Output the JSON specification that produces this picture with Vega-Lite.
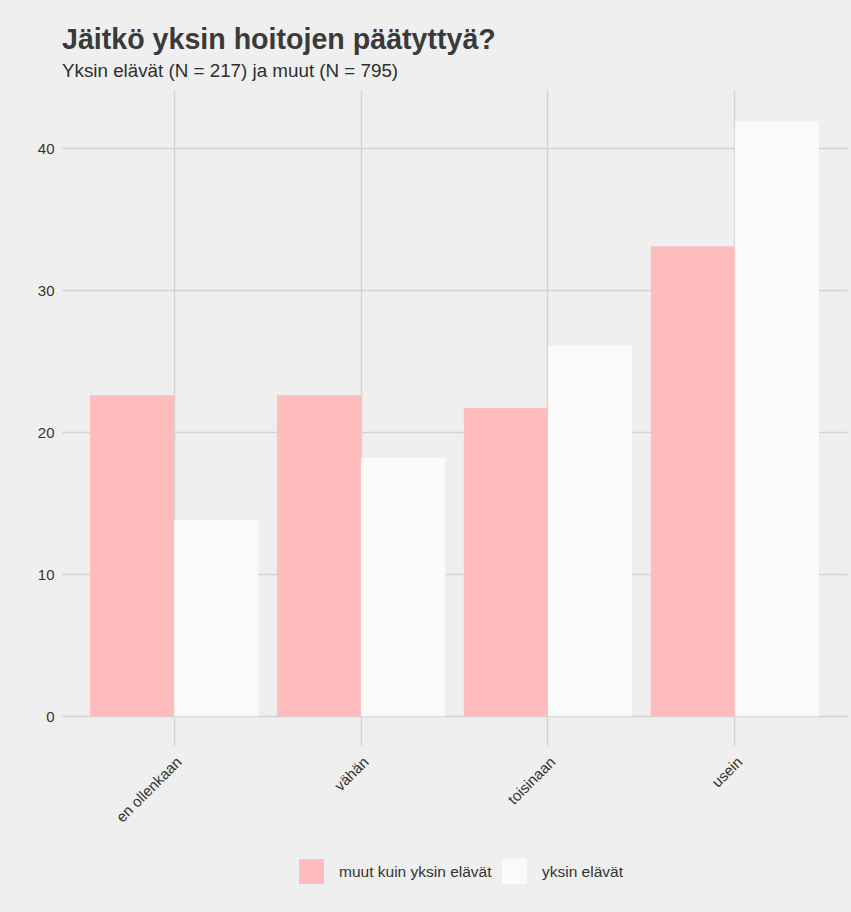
{
  "$schema": "https://vega.github.io/schema/vega-lite/v6.json",
  "width": 785,
  "height": 656,
  "autosize": {"type": "none"},
  "padding": {"left": 62, "top": 90, "right": 4, "bottom": 166},
  "background": "#efefef",
  "title": {
    "text": "Jäitkö yksin hoitojen päätyttyä?",
    "subtitle": "Yksin elävät (N = 217) ja muut (N = 795)",
    "anchor": "start",
    "frame": "group",
    "font": "Liberation Sans",
    "fontSize": 28.6,
    "fontWeight": "bold",
    "color": "#3a3a3a",
    "subtitleFont": "Liberation Sans",
    "subtitleFontSize": 18.8,
    "subtitleColor": "#2e2e2e",
    "subtitlePadding": 8,
    "offset": 9
  },
  "data": {
    "values": [
      {"luokka": "en ollenkaan", "ryhma": "muut kuin yksin elävät", "pros": 22.6},
      {"luokka": "en ollenkaan", "ryhma": "yksin elävät", "pros": 13.8},
      {"luokka": "vähän", "ryhma": "muut kuin yksin elävät", "pros": 22.6},
      {"luokka": "vähän", "ryhma": "yksin elävät", "pros": 18.2},
      {"luokka": "toisinaan", "ryhma": "muut kuin yksin elävät", "pros": 21.7},
      {"luokka": "toisinaan", "ryhma": "yksin elävät", "pros": 26.1},
      {"luokka": "usein", "ryhma": "muut kuin yksin elävät", "pros": 33.1},
      {"luokka": "usein", "ryhma": "yksin elävät", "pros": 41.9}
    ]
  },
  "mark": {"type": "bar"},
  "encoding": {
    "x": {
      "field": "luokka",
      "type": "nominal",
      "sort": ["en ollenkaan", "vähän", "toisinaan", "usein"],
      "scale": {"paddingInner": 0.1, "paddingOuter": 0.15},
      "axis": {
        "title": null,
        "domain": false,
        "ticks": false,
        "grid": true,
        "bandPosition": 0.5,
        "gridColor": "#d3d3d3",
        "gridWidth": 1.5,
        "labelAngle": -45,
        "labelAlign": "right",
        "labelBaseline": "top",
        "labelPadding": 8,
        "labelFont": "Liberation Sans",
        "labelFontSize": 15,
        "labelColor": "#333333"
      }
    },
    "xOffset": {
      "field": "ryhma",
      "type": "nominal",
      "sort": ["muut kuin yksin elävät", "yksin elävät"],
      "scale": {"paddingInner": 0, "paddingOuter": 0}
    },
    "y": {
      "field": "pros",
      "type": "quantitative",
      "scale": {"domain": [-2.1, 44.1], "nice": false, "zero": false},
      "axis": {
        "title": null,
        "domain": false,
        "ticks": false,
        "values": [0, 10, 20, 30, 40],
        "gridColor": "#d3d3d3",
        "gridWidth": 1.5,
        "labelPadding": 8,
        "labelFont": "Liberation Sans",
        "labelFontSize": 15,
        "labelColor": "#333333"
      }
    },
    "y2": {"datum": 0},
    "color": {
      "field": "ryhma",
      "type": "nominal",
      "scale": {
        "domain": ["muut kuin yksin elävät", "yksin elävät"],
        "range": ["#ffbcbc", "#fafaf8"]
      },
      "legend": {
        "title": null,
        "orient": "none",
        "legendX": 237,
        "legendY": 769,
        "padding": 0,
        "direction": "horizontal",
        "symbolType": "square",
        "symbolSize": 625,
        "symbolStrokeWidth": 0,
        "symbolOpacity": 1,
        "labelFont": "Liberation Sans",
        "labelFontSize": 15.5,
        "labelColor": "#333333",
        "labelOffset": 15,
        "columnPadding": 10
      }
    }
  },
  "config": {
    "view": {"stroke": null},
    "font": "Liberation Sans"
  }
}
